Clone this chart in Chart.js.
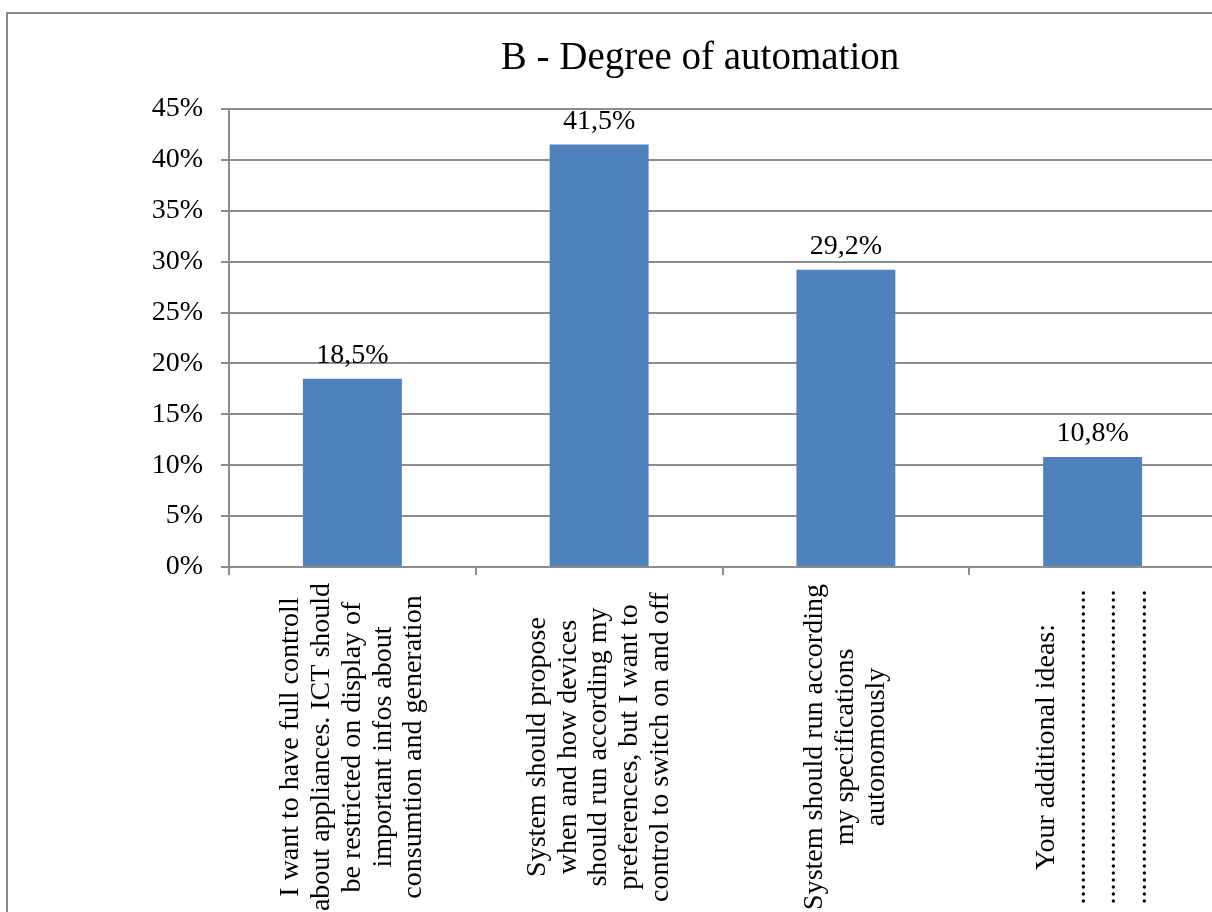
<!DOCTYPE html>
<html>
<head>
<meta charset="utf-8">
<script src="https://cdn.jsdelivr.net/npm/chart.js@4.4.1/dist/chart.umd.min.js"></script>
<style>
html,body{margin:0;padding:0;background:#fff;overflow:hidden;width:1212px;height:912px;}
#frame{position:absolute;left:6px;top:12px;width:1400px;height:1000px;border-left:2px solid #8a8a8a;border-top:2px solid #8a8a8a;}
#c{position:absolute;left:0;top:0;}
</style>
</head>
<body>
<div id="frame"></div>
<canvas id="c" width="1400" height="1000"></canvas>
<script>
// ---- data ----
const chartTitle = 'B - Degree of automation';
const dots = '.............................................';
const categories = [
  ['I want to have full controll', 'about appliances. ICT should', 'be restricted on display of', 'important infos about', 'consumtion and generation'],
  ['System should propose', 'when and how devices', 'should run according my', 'preferences, but I want to', 'control to switch on and off'],
  ['System should run according', 'my specifications', 'autonomously'],
  ['Your additional ideas:', dots, dots, dots]
];
const values = [18.5, 41.5, 29.2, 10.8];
const yMin = 0;
const yMax = 45;
const yStep = 5;

// ---- styling constants ----
const FONT = '"Liberation Serif", "Times New Roman", serif';
const GRID = '#8c8c8c';
const BAR = '#4F81BD';
const LABEL_CENTER_Y = 747;

function fmtPct(v) { return v.toFixed(1).replace('.', ',') + '%'; }

const centerXLabels = {
  id: 'centerXLabels',
  beforeDraw(chart) {
    const sc = chart.scales.x;
    const items = sc.getLabelItems(chart.chartArea);
    items.forEach((it, i) => {
      const n = Array.isArray(it.label) ? it.label.length : 1;
      const lh = it.font.lineHeight;
      it.options.textAlign = 'center';
      it.options.textBaseline = 'middle';
      it.options.translation = [sc.getPixelForTick(i), LABEL_CENTER_Y];
      it.textOffset = -(n - 1) / 2 * lh;
    });
  }
};

const valueLabels = {
  id: 'valueLabels',
  afterDatasetsDraw(chart) {
    const ctx = chart.ctx;
    const meta = chart.getDatasetMeta(0);
    ctx.save();
    ctx.font = '28px ' + FONT;
    ctx.fillStyle = '#000';
    ctx.textAlign = 'center';
    ctx.textBaseline = 'alphabetic';
    meta.data.forEach((bar, i) => {
      ctx.fillText(fmtPct(values[i]), bar.x, bar.y - 16);
    });
    ctx.restore();
  }
};

new Chart(document.getElementById('c'), {
  type: 'bar',
  data: {
    labels: categories,
    datasets: [{
      data: values,
      backgroundColor: BAR,
      borderWidth: 0,
      barPercentage: 0.401,
      categoryPercentage: 1
    }]
  },
  options: {
    responsive: false,
    animation: false,
    devicePixelRatio: 1,
    events: [],
    layout: { padding: { left: 0, right: 0, top: 0, bottom: 0 } },
    plugins: {
      legend: { display: false },
      tooltip: { enabled: false },
      title: {
        display: true,
        text: chartTitle,
        color: '#000',
        font: { family: FONT, size: 39, weight: 'normal', lineHeight: 1.2 },
        padding: { top: 35, bottom: 27.2 }
      }
    },
    scales: {
      x: {
        position: 'bottom',
        grid: { display: true, drawOnChartArea: false, drawTicks: true, tickLength: 8, color: GRID, lineWidth: 2, offset: true },
        border: { display: true, color: GRID, width: 2 },
        ticks: {
          autoSkip: false, maxRotation: 90, minRotation: 90,
          color: '#000',
          font: { family: FONT, size: 28, lineHeight: 1.1 }
        },
        afterFit(scale) { scale.height = 433; }
      },
      y: {
        position: 'left',
        min: yMin, max: yMax,
        grid: { color: GRID, lineWidth: 2, tickLength: 8, drawTicks: true },
        border: { display: true, color: GRID, width: 2 },
        ticks: {
          stepSize: yStep,
          padding: 18,
          color: '#000',
          font: { family: FONT, size: 28 },
          callback: v => v + '%'
        },
        afterFit(scale) { scale.width = 229; }
      },
      pad: {
        type: 'linear',
        position: 'right',
        display: true,
        grid: { display: false },
        border: { display: false },
        ticks: { display: false },
        afterFit(scale) { scale.width = 184; }
      }
    }
  },
  plugins: [centerXLabels, valueLabels]
});
</script>
</body>
</html>
